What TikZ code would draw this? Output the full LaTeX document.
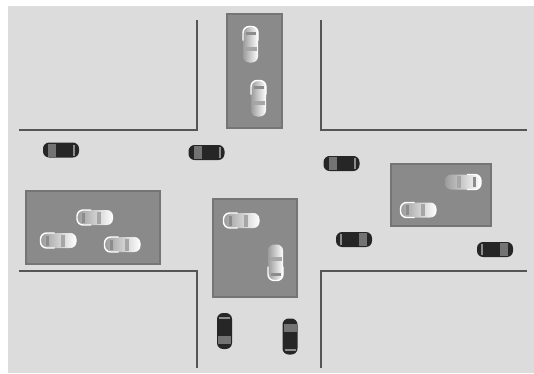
\documentclass[tikz,border=0pt]{standalone}
\usepackage{tikz}

\definecolor{ground}{HTML}{DCDCDC}
\definecolor{lotgray}{HTML}{8A8A8A}
\definecolor{curb}{HTML}{555555}

\tikzset{
  lot/.style={fill=lotgray, draw=lotgray!85!black, line width=0.7pt},
  kerb/.style={draw=curb, line width=1.2pt},
  pics/darkcar/.style={code={
    \fill[black!85, rounded corners=3.5pt] (-18,-7.5) rectangle (18,7.5);
    \fill[black!55] (-13,-6.5) rectangle (-5,6.5);
    \fill[black!45] (12,-5.5) rectangle (14,5.5);
  }},
  pics/lightcar/.style={code={
    \shade[left color=lotgray!85!white, right color=white, rounded corners=3.5pt] (-18,-7.5) rectangle (18,7.5);
    \fill[black!45] (10,-5) rectangle (13,5);
    \fill[black!35] (-6,-6) rectangle (-2,6);
    \draw[white, line width=0.8pt, rounded corners=3.5pt] (4,-7.5) -- (18,-7.5) -- (18,7.5) -- (4,7.5);
  }}
}

\begin{document}
\begin{tikzpicture}[x=0.02cm, y=-0.02cm]
    %\draw[step=10, gray, very thin] (0,0) grid (534,373);

    \fill[white] (0,0) rectangle (534,373);
    \fill[ground] (8,6) rectangle (534,373);

    % road edges
    \draw[kerb] (19,130) -- (197,130) -- (197,20);
    \draw[kerb] (321,20) -- (321,130) -- (527,130);
    \draw[kerb] (19,271) -- (197,271) -- (197,368);
    \draw[kerb] (321,368) -- (321,271) -- (527,271);

    % parking lots
    \draw[lot] (227,14) rectangle (282,128);
    \draw[lot] (26,191) rectangle (160,264);
    \draw[lot] (213,199) rectangle (297,297);
    \draw[lot] (391,164) rectangle (491,226);

    % parked cars
    \pic[rotate=90] (top1) at (250.5,44.5) {lightcar};
    \pic[rotate=90] (top2) at (258.5,98.5) {lightcar};

    \pic[rotate=180] (west1) at (95,217.5) {lightcar};
    \pic[rotate=180] (west2) at (58.5,240.5) {lightcar};
    \pic[rotate=180] (west3) at (122.5,244.5) {lightcar};

    \pic[rotate=180] (mid1) at (241.5,220.5) {lightcar};
    \pic[rotate=-90] (mid2) at (275.5,262.5) {lightcar};

    \pic (east1) at (463,182) {lightcar};
    \pic[rotate=180] (east2) at (418.5,210) {lightcar};

    % cars on the road
    \pic (drive1) at (61,150) {darkcar};
    \pic (drive2) at (206.5,152.5) {darkcar};
    \pic (drive3) at (341.5,163.5) {darkcar};
    \pic[rotate=180] (drive4) at (354,239.5) {darkcar};
    \pic[rotate=180] (drive5) at (495,249.5) {darkcar};
    \pic[rotate=90] (drive6) at (224.5,331) {darkcar};
    \pic[rotate=-90] (drive7) at (290,336.5) {darkcar};

  \end{tikzpicture}
\end{document}
